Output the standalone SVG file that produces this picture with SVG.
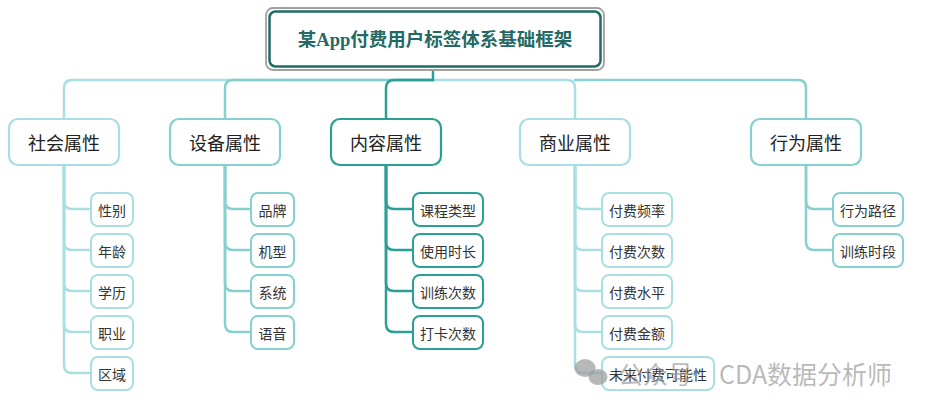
<svg xmlns="http://www.w3.org/2000/svg" width="928" height="410" viewBox="0 0 928 410">
<style>
.c{fill:none;stroke-width:2.5;stroke-linecap:round}
.lt{stroke:#a9dfe2}
.md{stroke:#86d0d0}
.dk{stroke:#2b9f96}
.n1{fill:#fff;stroke-width:2.2}
.n2{fill:#fff;stroke-width:2}
.t1{font-family:"Noto Sans CJK SC","Noto Sans",sans-serif;font-size:18px;fill:#222;text-anchor:middle;dominant-baseline:central}
.t2{font-family:"Noto Sans CJK SC","Noto Sans",sans-serif;font-size:14px;fill:#333;text-anchor:middle;dominant-baseline:central}
.wm{font-family:"Noto Sans CJK SC","Noto Sans",sans-serif;font-size:25px;fill:#9a9a9a;fill-opacity:0.7}
</style>
<rect width="928" height="410" fill="#fff"/>
<g id="connectors">
  <path class="c lt" d="M433,80 H72 Q64,80 64,88 V118"/>
  <path class="c md" d="M433,80 H233 Q225,80 225,88 V118"/>
  <path class="c lt" d="M433,80 H567 Q575,80 575,88 V118"/>
  <path class="c md" d="M575,80 H798 Q806,80 806,88 V118"/>
  <path class="c dk" d="M433,67 V80 H394 Q386,80 386,88 V118"/>
  <path class="c lt" d="M64,165 V201 Q64,209 72,209 H91"/>
  <path class="c lt" d="M64,165 V242 Q64,250 72,250 H91"/>
  <path class="c lt" d="M64,165 V283 Q64,291 72,291 H91"/>
  <path class="c lt" d="M64,165 V324 Q64,332 72,332 H91"/>
  <path class="c lt" d="M64,165 V365 Q64,373 72,373 H91"/>
  <path class="c md" d="M225,165 V201 Q225,209 233,209 H251"/>
  <path class="c md" d="M225,165 V242 Q225,250 233,250 H251"/>
  <path class="c md" d="M225,165 V283 Q225,291 233,291 H251"/>
  <path class="c md" d="M225,165 V324 Q225,332 233,332 H251"/>
  <path class="c dk" d="M386,165 V201 Q386,209 394,209 H413"/>
  <path class="c dk" d="M386,165 V242 Q386,250 394,250 H413"/>
  <path class="c dk" d="M386,165 V283 Q386,291 394,291 H413"/>
  <path class="c dk" d="M386,165 V324 Q386,332 394,332 H413"/>
  <path class="c lt" d="M575,165 V201 Q575,209 583,209 H602"/>
  <path class="c lt" d="M575,165 V242 Q575,250 583,250 H602"/>
  <path class="c lt" d="M575,165 V283 Q575,291 583,291 H602"/>
  <path class="c lt" d="M575,165 V324 Q575,332 583,332 H602"/>
  <path class="c lt" d="M575,165 V365 Q575,373 583,373 H602"/>
  <path class="c md" d="M806,165 V201 Q806,209 814,209 H833"/>
  <path class="c md" d="M806,165 V242 Q806,250 814,250 H833"/>
</g>
<g id="root">
  <rect x="266" y="8" width="338" height="62" rx="7" fill="#fff" stroke="#a0a0a0" stroke-width="1.8"/>
  <rect x="269.5" y="11.5" width="331" height="55" rx="6" fill="#fff" stroke="#1f6b66" stroke-width="2.5"/>
  <text x="435" y="40" font-family="'Liberation Serif','Noto Sans CJK SC',serif" font-size="18.5" font-weight="bold" fill="#236a65" text-anchor="middle" dominant-baseline="central">某App付费用户标签体系基础框架</text>
</g>
<g id="social">
  <rect class="n1 lt" x="9" y="119" width="110" height="46" rx="9"/>
  <text class="t1" x="64" y="142">社会属性</text>
</g>
<g id="device">
  <rect class="n1 md" x="170" y="119" width="110" height="46" rx="9"/>
  <text class="t1" x="225" y="142">设备属性</text>
</g>
<g id="content">
  <rect class="n1 dk" x="331" y="119" width="110" height="46" rx="9"/>
  <text class="t1" x="386" y="142">内容属性</text>
</g>
<g id="business">
  <rect class="n1 lt" x="520" y="119" width="110" height="46" rx="9"/>
  <text class="t1" x="575" y="142">商业属性</text>
</g>
<g id="behavior">
  <rect class="n1 md" x="751" y="119" width="110" height="46" rx="9"/>
  <text class="t1" x="806" y="142">行为属性</text>
</g>
<g id="gender"><rect class="n2 lt" x="91" y="193" width="42" height="33" rx="7"/><text class="t2" x="112" y="209.5">性别</text></g>
<g id="age"><rect class="n2 lt" x="91" y="234" width="42" height="33" rx="7"/><text class="t2" x="112" y="250.5">年龄</text></g>
<g id="education"><rect class="n2 lt" x="91" y="275" width="42" height="33" rx="7"/><text class="t2" x="112" y="291.5">学历</text></g>
<g id="job"><rect class="n2 lt" x="91" y="316" width="42" height="33" rx="7"/><text class="t2" x="112" y="332.5">职业</text></g>
<g id="region"><rect class="n2 lt" x="91" y="357" width="42" height="33" rx="7"/><text class="t2" x="112" y="373.5">区域</text></g>
<g id="brand"><rect class="n2 md" x="251" y="193" width="43" height="33" rx="7"/><text class="t2" x="272.5" y="209.5">品牌</text></g>
<g id="model"><rect class="n2 md" x="251" y="234" width="43" height="33" rx="7"/><text class="t2" x="272.5" y="250.5">机型</text></g>
<g id="system"><rect class="n2 md" x="251" y="275" width="43" height="33" rx="7"/><text class="t2" x="272.5" y="291.5">系统</text></g>
<g id="language"><rect class="n2 md" x="251" y="316" width="43" height="33" rx="7"/><text class="t2" x="272.5" y="332.5">语音</text></g>
<g id="course"><rect class="n2 dk" x="413" y="193" width="70" height="33" rx="7"/><text class="t2" x="448" y="209.5">课程类型</text></g>
<g id="usetime"><rect class="n2 dk" x="413" y="234" width="70" height="33" rx="7"/><text class="t2" x="448" y="250.5">使用时长</text></g>
<g id="trains"><rect class="n2 dk" x="413" y="275" width="70" height="33" rx="7"/><text class="t2" x="448" y="291.5">训练次数</text></g>
<g id="checkin"><rect class="n2 dk" x="413" y="316" width="70" height="33" rx="7"/><text class="t2" x="448" y="332.5">打卡次数</text></g>
<g id="payfreq"><rect class="n2 lt" x="602" y="193" width="70" height="33" rx="7"/><text class="t2" x="637" y="209.5">付费频率</text></g>
<g id="paycount"><rect class="n2 lt" x="602" y="234" width="70" height="33" rx="7"/><text class="t2" x="637" y="250.5">付费次数</text></g>
<g id="paylevel"><rect class="n2 lt" x="602" y="275" width="70" height="33" rx="7"/><text class="t2" x="637" y="291.5">付费水平</text></g>
<g id="payamount"><rect class="n2 lt" x="602" y="316" width="70" height="33" rx="7"/><text class="t2" x="637" y="332.5">付费金额</text></g>
<g id="paypotential"><rect class="n2 lt" x="602" y="357" width="112" height="33" rx="7"/><text class="t2" x="658" y="373.5">未来付费可能性</text></g>
<g id="path"><rect class="n2 md" x="833" y="193" width="70" height="33" rx="7"/><text class="t2" x="868" y="209.5">行为路径</text></g>
<g id="trainperiod"><rect class="n2 md" x="833" y="234" width="70" height="33" rx="7"/><text class="t2" x="868" y="250.5">训练时段</text></g>
<g id="watermark" fill="#9a9a9a" fill-opacity="0.7">
  <ellipse cx="585" cy="368" rx="10.5" ry="9"/>
  <ellipse cx="598" cy="377" rx="9.5" ry="8"/>
  <text class="wm" x="618" y="384">公众号</text>
  <text class="wm" x="719" y="384">CDA数据分析师</text>
</g>
</svg>
